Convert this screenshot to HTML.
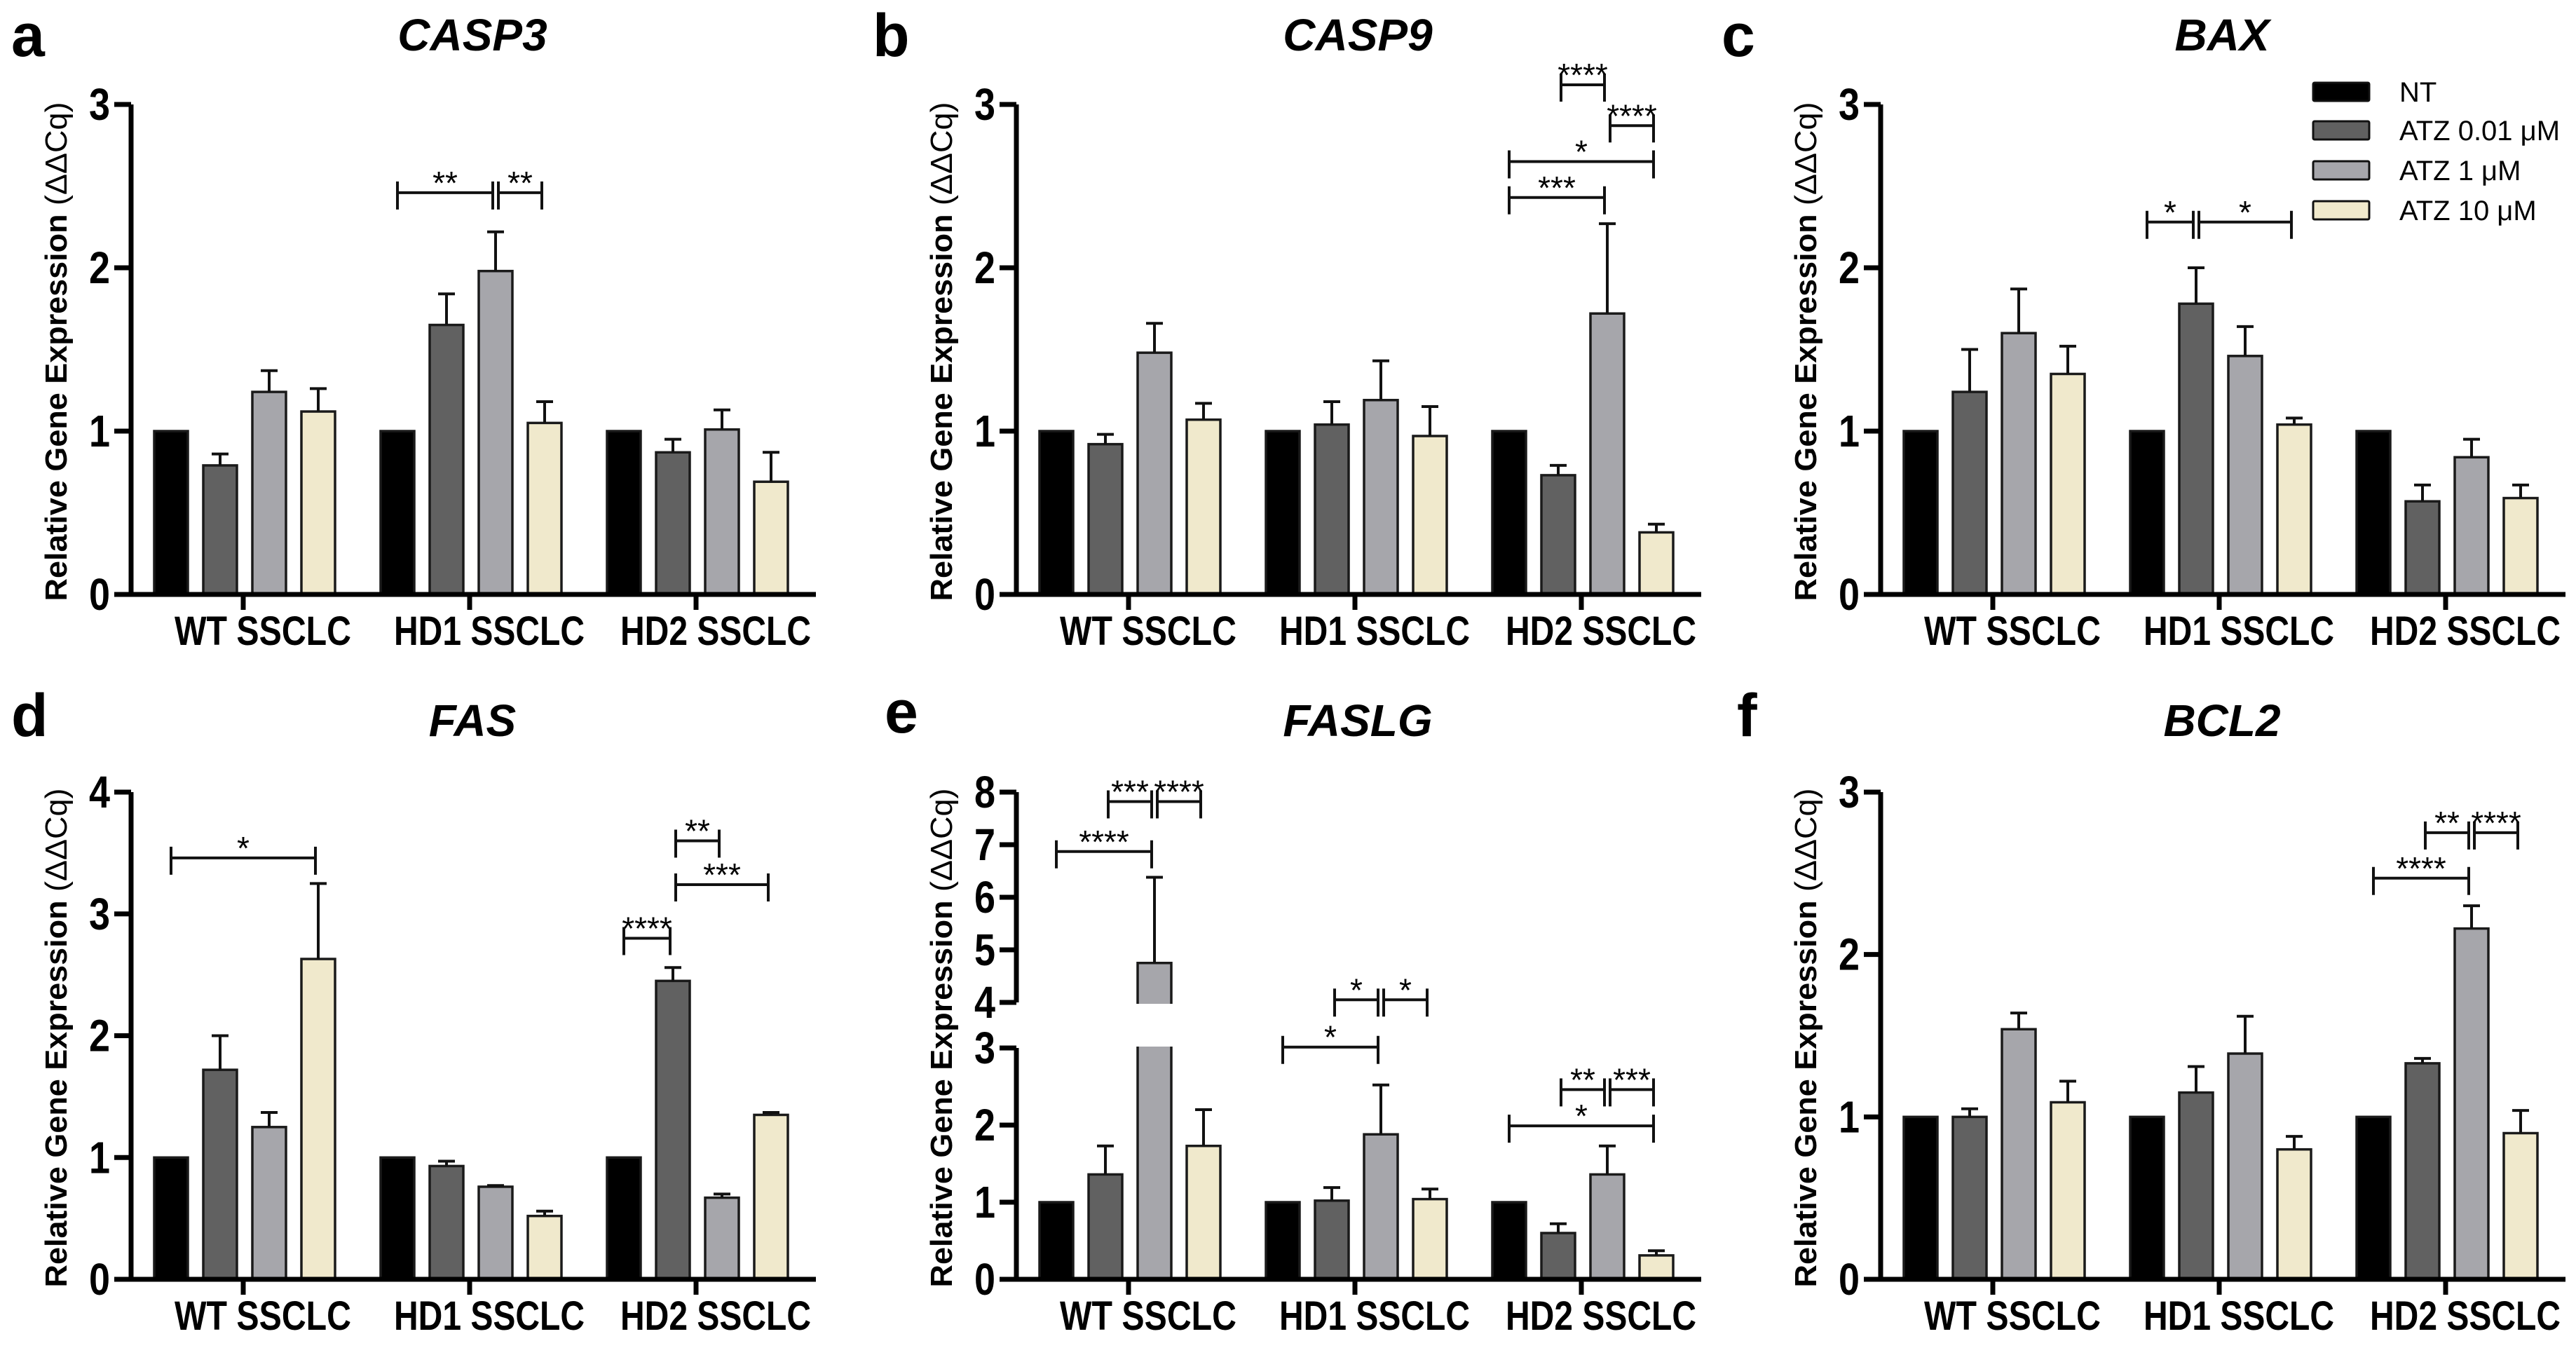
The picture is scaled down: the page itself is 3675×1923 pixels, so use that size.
<!DOCTYPE html>
<html><head><meta charset="utf-8">
<style>
html,body{margin:0;padding:0;background:#fff;}
svg{display:block;font-family:"Liberation Sans",Arial,sans-serif;}
</style></head>
<body>
<svg id="fig" xmlns="http://www.w3.org/2000/svg" width="3675" height="1923" viewBox="0 0 3675 1923"></svg>
<script>
const groups = ["WT SSCLC", "HD1 SSCLC", "HD2 SSCLC"];
const seriesNames = ["NT", "ATZ 0.01 μM", "ATZ 1 μM", "ATZ 10 μM"];
const seriesColors = ["#000000", "#616161", "#a6a6ab", "#f0e9cc"];
const panelIds = ["a", "b", "c", "d", "e", "f"];
const panelTitles = ["CASP3", "CASP9", "BAX", "FAS", "FASLG", "BCL2"];
const valsA = [[1, 0.79, 1.24, 1.12], [1, 1.65, 1.98, 1.05], [1, 0.87, 1.01, 0.69]];
const errA  = [[1, 0.86, 1.37, 1.26], [1, 1.84, 2.22, 1.18], [1, 0.95, 1.13, 0.87]];
const valsB = [[1, 0.92, 1.48, 1.07], [1, 1.04, 1.19, 0.97], [1, 0.73, 1.72, 0.38]];
const errB  = [[1, 0.98, 1.66, 1.17], [1, 1.18, 1.43, 1.15], [1, 0.79, 2.27, 0.43]];
const valsC = [[1, 1.24, 1.60, 1.35], [1, 1.78, 1.46, 1.04], [1, 0.57, 0.84, 0.59]];
const errC  = [[1, 1.50, 1.87, 1.52], [1, 2.00, 1.64, 1.08], [1, 0.67, 0.95, 0.67]];
const valsD = [[1, 1.72, 1.25, 2.63], [1, 0.93, 0.76, 0.52], [1, 2.45, 0.67, 1.35]];
const errD  = [[1, 2.00, 1.37, 3.25], [1, 0.97, 0.77, 0.56], [1, 2.56, 0.70, 1.37]];
const valsE = [[1, 1.36, 4.75, 1.73], [1, 1.02, 1.88, 1.04], [1, 0.60, 1.36, 0.31]];
const errE  = [[1, 1.73, 6.38, 2.20], [1, 1.19, 2.52, 1.17], [1, 0.72, 1.73, 0.37]];
const valsF = [[1, 1.00, 1.54, 1.09], [1, 1.15, 1.39, 0.80], [1, 1.33, 2.16, 0.90]];
const errF  = [[1, 1.05, 1.64, 1.22], [1, 1.31, 1.62, 0.88], [1, 1.36, 2.30, 1.04]];
const ticksRow1 = [0, 1, 2, 3];
const ticksD = [0, 1, 2, 3, 4];
const ticksE = [0, 1, 2, 3, 4, 5, 6, 7, 8];
const sigA = [[1, 0, 2, 2.46, "**"], [1, 2, 3, 2.46, "**"]];
const sigB = [[2, 1, 2, 3.12, "****"], [2, 2, 3, 2.87, "****"], [2, 0, 3, 2.65, "*"], [2, 0, 2, 2.43, "***"]];
const sigC = [[1, 0, 1, 2.28, "*"], [1, 1, 3, 2.28, "*"]];
const sigD = [[0, 0, 3, 3.46, "*"], [2, 0, 1, 2.80, "****"], [2, 1, 2, 3.60, "**"], [2, 1, 3, 3.24, "***"]];
const sigE = [[0, 1, 2, 7.82, "***"], [0, 2, 3, 7.82, "****"], [0, 0, 2, 6.87, "****"], [1, 1, 2, 4.05, "*"], [1, 2, 3, 4.05, "*"], [1, 0, 2, 3.02, "*"], [2, 1, 2, 2.46, "**"], [2, 2, 3, 2.46, "***"], [2, 0, 3, 1.99, "*"]];
const sigF = [[2, 1, 2, 2.75, "**"], [2, 2, 3, 2.75, "****"], [2, 0, 2, 2.47, "****"]];

const NS = "http://www.w3.org/2000/svg";
const svg = document.getElementById("fig");
function mk(tag, attrs, parent) {
  const e = document.createElementNS(NS, tag);
  for (const k in attrs) e.setAttribute(k, attrs[k]);
  (parent || svg).appendChild(e);
  return e;
}

const colX = [187, 1450, 2683];
const row1 = {y0: 848, top: 149};
const row2 = {y0: 1825, top: 1130};

function linearScale(y0, top, max) { const u = (y0 - top) / max; return v => y0 - v * u; }
function brokenScale(y0, top) {
  const y3 = y0 - 330, y4 = y3 - 65, uU = (y4 - top) / 4;
  return v => v <= 3 ? y0 - v * 110 : (v >= 4 ? y4 - (v - 4) * uU : y3 - (v - 3) * 65);
}

const panels = [
  {vals: valsA, err: errA, sig: sigA, ax: colX[0], row: row1, ticks: ticksRow1, scale: linearScale(row1.y0, row1.top, 3)},
  {vals: valsB, err: errB, sig: sigB, ax: colX[1], row: row1, ticks: ticksRow1, scale: linearScale(row1.y0, row1.top, 3)},
  {vals: valsC, err: errC, sig: sigC, ax: colX[2], row: row1, ticks: ticksRow1, scale: linearScale(row1.y0, row1.top, 3)},
  {vals: valsD, err: errD, sig: sigD, ax: colX[0], row: row2, ticks: ticksD, scale: linearScale(row2.y0, row2.top, 4)},
  {vals: valsE, err: errE, sig: sigE, ax: colX[1], row: row2, ticks: ticksE, scale: brokenScale(row2.y0, row2.top), broken: true},
  {vals: valsF, err: errF, sig: sigF, ax: colX[2], row: row2, ticks: ticksRow1, scale: linearScale(row2.y0, row2.top, 3)}
];
const letterPos = [[16, 80], [1245, 80], [2456, 80], [16, 1050], [1262, 1045], [2478, 1050]];

function barX(p, g, s) { return p.ax + 33 + g * 323 + s * 70; }
const BW = 48;

panels.forEach((p, pi) => {
  const G = mk("g", {});
  
  
  const y0 = p.row.y0, sc = p.scale;
  const L = mk("text", {x: letterPos[pi][0], y: letterPos[pi][1], "font-size": 86, "font-weight": "bold"}, G);
  
  
  L.textContent = panelIds[pi];
  const T = mk("text", {x: p.ax + 487, y: (p.row === row1 ? 72 : 1050), "font-size": 64, "font-weight": "bold", "font-style": "italic", "text-anchor": "middle"}, G);
  
  
  T.textContent = panelTitles[pi];
  const yc = (y0 + p.row.top) / 2 + 3;
  const YT = mk("text", {x: 0, y: 0, transform: `translate(${p.ax - 92},${yc}) rotate(-90)`, "font-size": 44, "font-weight": "bold", "text-anchor": "middle", textLength: 712, lengthAdjust: "spacingAndGlyphs"}, G);
  
  
  YT.textContent = "Relative Gene Expression ";
  const ts = mk("tspan", {"font-weight": "normal"}, YT);
  ts.textContent = "(\u0394\u0394Cq)";
  p.vals.forEach((gv, g) => {
    gv.forEach((v, s) => {
      const x = barX(p, g, s), yt = sc(v);
      const r = mk("rect", {x: x, y: yt, width: BW, height: y0 - yt, fill: seriesColors[s], stroke: "#1a1a1a", "stroke-width": 3.5}, G);
      
      
      const e = p.err[g][s];
      if (e > v + 0.001) {
        const cx = x + BW / 2, ye = sc(e);
        const eb = mk("path", {d: `M${cx},${yt} V${ye} M${cx - 12},${ye} H${cx + 12}`, stroke: "#111", "stroke-width": 4, fill: "none"}, G);
        
        
      }
    });
  });
  const xEnd = p.ax + 977;
  if (p.broken) {
    const y3 = sc(3), y4 = sc(4);
    mk("rect", {x: p.ax + 4, y: y4 + 2, width: 980, height: y3 - y4 - 4, fill: "#fff"}, G);
    const a1 = mk("path", {d: `M${p.ax},${y0} V${y3} M${p.ax},${y4} V${sc(8)}`, stroke: "#000", "stroke-width": 7, fill: "none"}, G);
    
    
  } else {
    const a1 = mk("path", {d: `M${p.ax},${y0} V${p.row.top}`, stroke: "#000", "stroke-width": 7, fill: "none"}, G);
    
    
  }
  const xa = mk("path", {d: `M${p.ax - 24},${y0} H${xEnd}`, stroke: "#000", "stroke-width": 7, fill: "none"}, G);
  
  
  p.ticks.forEach(t => {
    const y = sc(t);
    mk("path", {d: `M${p.ax - 24},${y} H${p.ax}`, stroke: "#000", "stroke-width": 7}, G);
    const tl = mk("text", {x: p.ax - 30, y: y + 22, "font-size": 64, "font-weight": "bold", "text-anchor": "end", textLength: 30, lengthAdjust: "spacingAndGlyphs"}, G);
    
    
    tl.textContent = t;
  });
  groups.forEach((gname, g) => {
    const cx = barX(p, g, 0) + 127;
    mk("path", {d: `M${cx},${y0} V${y0 + 22}`, stroke: "#000", "stroke-width": 7}, G);
    const xl = mk("text", {x: cx + 28, y: y0 + 72, "font-size": 58, "font-weight": "bold", "text-anchor": "middle", textLength: g === 0 ? 252 : 272, lengthAdjust: "spacingAndGlyphs"}, G);
    
    
    xl.textContent = gname;
  });
  p.sig.forEach(sg => {
    const [g, i, j, lv, lab] = sg;
    const x1 = barX(p, g, i) + BW / 2 + (i > 0 ? 4 : 0), x2 = barX(p, g, j) + BW / 2 - 4;
    const y = sc(lv);
    const br = mk("path", {d: `M${x1},${y + 24} V${y - 16} M${x1},${y} H${x2} M${x2},${y + 24} V${y - 16}`, stroke: "#111", "stroke-width": 4, fill: "none"}, G);
    
    
    const st = mk("text", {x: (x1 + x2) / 2, y: y + 2, "font-size": 46, "text-anchor": "middle"}, G);
    
    
    st.textContent = lab;
  });
});

const LG = mk("g", {});


const legY = [131, 186, 243, 300];
seriesNames.forEach((n, i) => {
  const r = mk("rect", {x: 3300, y: legY[i] - 13, width: 80, height: 26, fill: seriesColors[i], stroke: "#111", "stroke-width": 3, rx: 2}, LG);
  
  
  const t = mk("text", {x: 3423, y: legY[i] + 14, "font-size": 40}, LG);
  
  
  t.textContent = n;
});
</script>
</body></html>
